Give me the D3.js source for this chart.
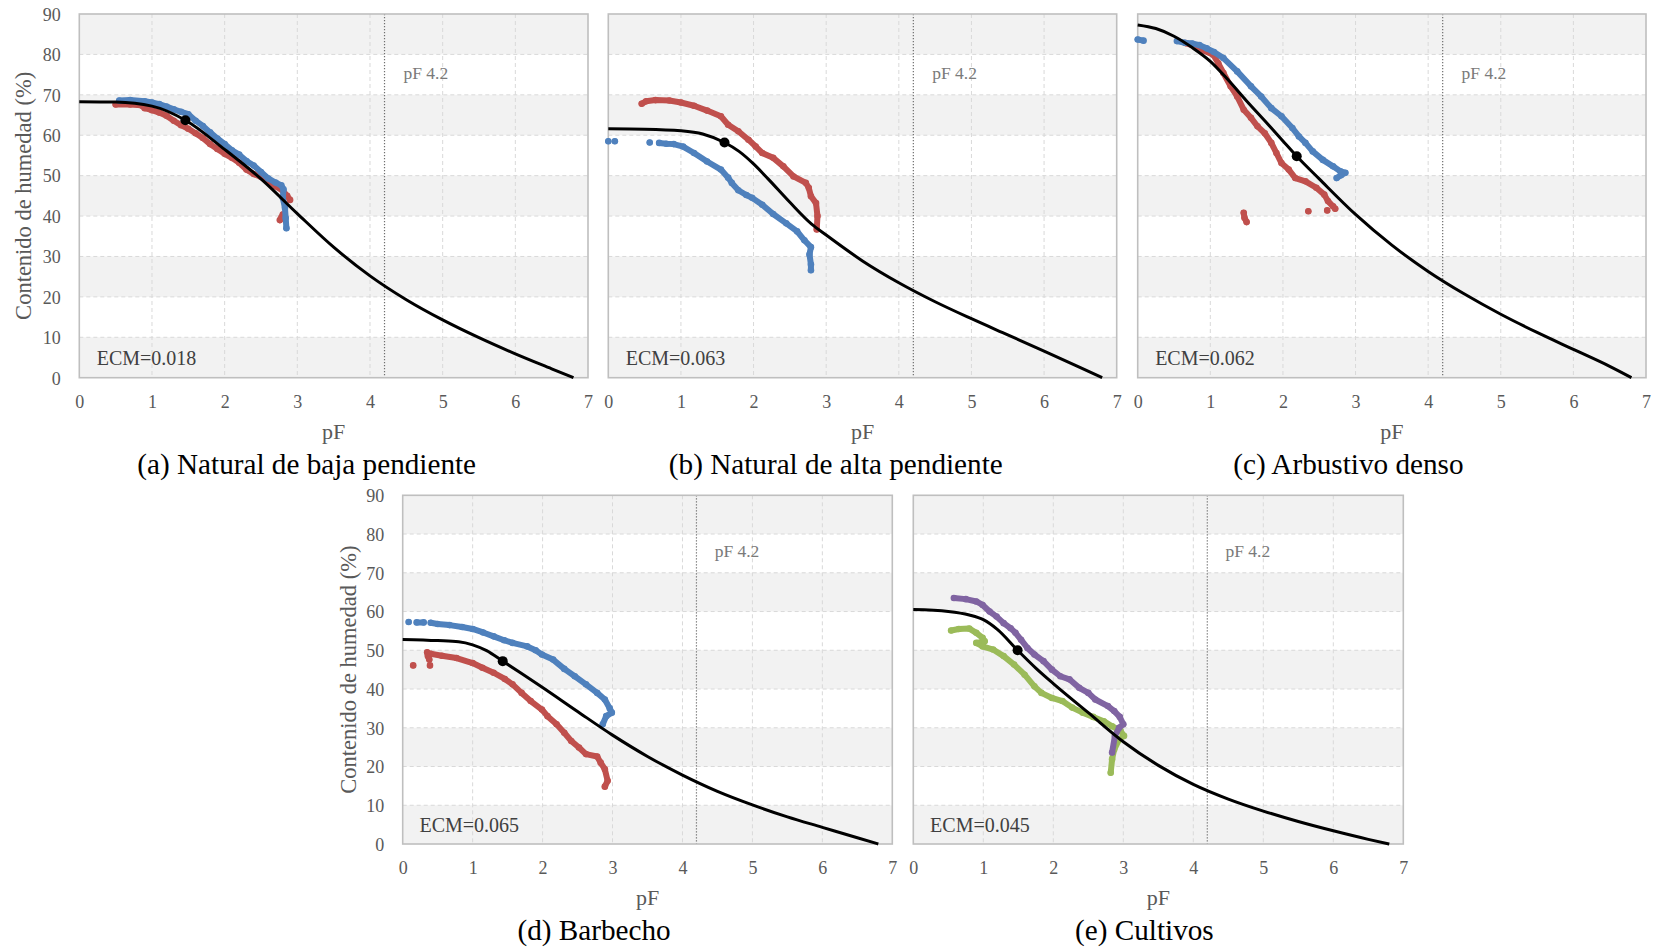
<!DOCTYPE html>
<html>
<head>
<meta charset="utf-8">
<script src="https://cdn.jsdelivr.net/npm/d3@7"></script>
<style>
  body { margin: 0; background: #fff; }
  svg { display: block; }
  text { font-family: "Liberation Serif", "Times New Roman", serif; }
</style>
</head>
<body>
<svg id="fig" width="1658" height="947"></svg>
<script>
// ---- axis ticks ----
const pfTicks = [0, 1, 2, 3, 4, 5, 6, 7];
const thetaTicks = [0, 10, 20, 30, 40, 50, 60, 70, 80, 90];
const wiltingPF = 4.2;

// ---- panel captions and fit errors ----
const panelTitles = ["(a) Natural de baja pendiente", "(b) Natural de alta pendiente", "(c) Arbustivo denso", "(d) Barbecho", "(e) Cultivos"];
const ecmLabels = ["ECM=0.018", "ECM=0.063", "ECM=0.062", "ECM=0.065", "ECM=0.045"];

// ---- fitted retention curves [pF, moisture %] ----
const curveA = [[0,68.3],[0.5,68.2],[1,67.2],[1.46,63.7],[2,56.5],[2.5,49.2],[3,40.6],[3.5,32.3],[4,25.2],[4.5,19.3],[5,14.3],[5.5,9.9],[6,5.9],[6.5,2.2],[6.8,0]];
const curveB = [[0,61.6],[0.5,61.5],[1,61.1],[1.3,60.3],[1.6,58.2],[1.8,56.0],[2,52.9],[2.2,49.2],[2.5,43.4],[2.8,38.0],[3,35.3],[3.5,28.9],[4,23.5],[4.5,18.8],[5,14.6],[5.5,10.6],[6,6.6],[6.5,2.5],[6.8,0]];
const curveC = [[0,87.3],[0.25,86.4],[0.5,84.5],[0.75,81.7],[1,78.3],[1.25,73.6],[1.5,68.5],[1.75,63.6],[2,58.6],[2.19,54.8],[2.5,49.2],[3,40.4],[3.5,32.8],[4,26.3],[4.5,20.7],[5,15.7],[5.5,11.2],[6,7.0],[6.5,2.8],[6.8,0]];
const curveD = [[0,52.8],[0.5,52.5],[0.8,52.2],[1,51.4],[1.2,49.9],[1.43,47.2],[1.7,44.0],[2,40.4],[2.5,34.2],[3,28.1],[3.5,22.6],[4,17.8],[4.5,13.6],[5,10.1],[5.5,7.0],[6,4.3],[6.5,1.6],[6.8,0]];
const curveE = [[0,60.5],[0.5,60.0],[0.8,59.1],[1,57.9],[1.2,55.4],[1.49,50.0],[1.75,45.4],[2,41.4],[2.5,33.9],[3,26.4],[3.5,20.3],[4,15.4],[4.5,11.6],[5,8.5],[5.5,5.8],[6,3.4],[6.5,1.2],[6.8,0]];

// ---- marked point on each fitted curve ----
const fitPointA = [1.46, 63.7];
const fitPointB = [1.60, 58.2];
const fitPointC = [2.19, 54.8];
const fitPointD = [1.43, 47.2];
const fitPointE = [1.49, 50.0];

// ---- measured series [pF, moisture %]; null separates detached runs ----
const redA = [[0.5,67.6],[0.7,67.6],[0.85,67.4],[0.9,66.7],[1.0,66.2],[1.1,65.6],[1.2,64.8],[1.3,63.6],[1.4,62.5],[1.5,61.6],[1.6,60.5],[1.7,59.3],[1.8,57.8],[1.9,56.6],[2.0,55.4],[2.1,54.4],[2.2,53.2],[2.3,51.5],[2.4,50.4],[2.5,49.7],[2.6,48.6],[2.7,47.4],[2.8,46.3],[2.86,45.0],[2.9,44.0],null,[2.76,39.0],[2.78,39.6],[2.8,40.4]];
const blueA = [[0.55,68.6],[0.7,68.7],[0.9,68.4],[1.0,68.1],[1.1,67.7],[1.2,67.1],[1.3,66.4],[1.4,65.8],[1.5,65.2],[1.6,63.6],[1.7,62.3],[1.8,60.7],[1.9,59.2],[2.0,57.8],[2.1,56.3],[2.2,55.2],[2.3,53.6],[2.4,52.5],[2.5,50.9],[2.6,49.3],[2.7,48.3],[2.78,47.6],[2.81,46.6],[2.8,44.5],[2.83,42],[2.84,39.5],[2.85,37]];

const redB = [[0.46,67.8],[0.52,68.4],[0.65,68.7],[0.84,68.6],[1.0,68.1],[1.18,67.3],[1.36,66.1],[1.55,64.7],[1.65,62.6],[1.79,61.0],[1.93,58.9],[2.03,57.2],[2.12,55.6],[2.27,54.4],[2.41,52.3],[2.55,49.8],[2.72,48.2],[2.76,47.0],[2.79,44.9],[2.86,43.2],[2.88,40.0],[2.87,36.7]];
const blueB = [[0.0,58.5],null,[0.09,58.5],null,[0.57,58.2],null,[0.7,58.1],[0.8,57.9],[0.9,57.8],[1.03,57.2],[1.18,55.6],[1.36,53.5],[1.55,51.5],[1.65,49.5],[1.7,48.2],[1.79,46.4],[1.9,45.2],[1.98,44.5],[2.12,42.8],[2.27,40.5],[2.45,38.2],[2.6,36.2],[2.7,34.0],[2.79,32.3],[2.77,30.5],[2.79,28.0],[2.79,26.6]];

const redC = [[0.66,82.8],[0.8,82.0],[0.9,81.0],[1.04,79.9],[1.11,77.8],[1.18,75.4],[1.28,72.1],[1.37,69.6],[1.46,66.3],[1.56,64.3],[1.65,62.2],[1.75,60.5],[1.84,58.1],[1.91,55.6],[1.98,53.1],[2.08,51.5],[2.17,49.4],[2.31,48.6],[2.46,47.0],[2.57,45.3],[2.62,43.7],[2.69,42.4],[2.72,41.8],null,[1.46,40.8],[1.47,39.6],[1.5,38.5],null,[2.35,41.2],null,[2.61,41.4]];
const blueC = [[0.0,83.7],[0.08,83.4],null,[0.54,83.3],[0.65,82.9],[0.75,82.7],[0.85,82.3],[0.95,81.5],[1.05,80.6],[1.18,79.1],[1.37,75.8],[1.56,72.1],[1.70,69.6],[1.84,66.7],[1.98,64.7],[2.13,61.8],[2.22,59.7],[2.31,58.1],[2.41,56.0],[2.55,53.9],[2.69,52.3],[2.79,51.1],[2.86,50.7],[2.8,50.1],[2.74,49.4]];

const redD = [[0.15,46.1],null,[0.35,49.5],[0.36,48.5],[0.38,47.6],null,[0.39,46.1],null,[0.4,49.1],[0.56,48.6],[0.77,48.0],[1.0,46.7],[1.14,45.5],[1.3,44.2],[1.46,42.6],[1.57,41.2],[1.7,39.0],[1.83,36.9],[1.99,34.7],[2.07,33.0],[2.2,30.9],[2.31,28.7],[2.41,26.6],[2.52,24.9],[2.62,23.2],[2.78,22.6],[2.83,21.0],[2.89,19.3],[2.93,16.3],[2.89,14.8]];
const blueD = [[0.085,57.3],null,[0.2,57.2],[0.3,57.2],null,[0.4,57.1],[0.5,56.8],[0.67,56.5],[0.85,56.0],[1.0,55.5],[1.15,54.6],[1.3,53.6],[1.45,52.6],[1.57,51.9],[1.78,51.0],[1.9,50.0],[1.99,48.9],[2.15,47.6],[2.31,45.2],[2.46,43.3],[2.62,41.2],[2.78,39.0],[2.89,37.3],[2.96,35.0],[2.99,33.9],[2.91,33.0],[2.86,30.9]];

const greenE = [[0.54,55.1],[0.65,55.5],[0.8,55.6],[0.9,54.5],[0.99,53.2],[1.02,52.3],[0.9,51.9],[0.99,51.0],[1.14,50.2],[1.29,48.5],[1.44,46.3],[1.59,43.7],[1.73,40.7],[1.83,39.0],[1.98,37.7],[2.13,36.9],[2.27,35.2],[2.42,33.9],[2.57,32.8],[2.72,31.7],[2.84,30.4],[2.96,29.2],[3.01,27.9],[2.94,27.0],[2.87,24.4],[2.84,21.9],[2.82,18.4]];
const purpleE = [[0.58,63.5],[0.75,63.2],[0.9,62.6],[0.99,61.7],[1.09,60.0],[1.19,58.7],[1.29,57.0],[1.39,55.7],[1.46,54.5],[1.54,52.7],[1.63,50.6],[1.73,48.9],[1.86,47.2],[1.98,45.0],[2.1,43.3],[2.23,42.5],[2.37,40.3],[2.5,39.0],[2.6,37.3],[2.78,35.6],[2.87,34.3],[2.95,32.8],[3.0,30.9],[2.94,30.0],[2.88,27.9],[2.84,23.6]];

// ---- palette ----
const BLUE = "#4f81bd", RED = "#c0504d", PURPLE = "#8064a2", GREEN = "#9bbb59";
const AXIS_TEXT = "#595959";

// ---- panel layout: plot box [left, top, width, height] ----
const panels = [
  { box: [79.3, 14, 508.7, 363.7], titleX: 306.7, titleY: 474, yTitleX: 31,
    curve: curveA, fit: fitPointA, series: [[redA, RED], [blueA, BLUE]], showY: true },
  { box: [608.3, 14, 508.4, 363.7], titleX: 835.8, titleY: 474,
    curve: curveB, fit: fitPointB, series: [[redB, RED], [blueB, BLUE]], showY: false },
  { box: [1137.7, 14, 508.3, 363.7], titleX: 1348.4, titleY: 474,
    curve: curveC, fit: fitPointC, series: [[redC, RED], [blueC, BLUE]], showY: false },
  { box: [402.7, 495.3, 489.6, 348.7], titleX: 594, titleY: 940, yTitleX: 356,
    curve: curveD, fit: fitPointD, series: [[redD, RED], [blueD, BLUE]], showY: true },
  { box: [913.3, 495.3, 490, 348.7], titleX: 1144.4, titleY: 940,
    curve: curveE, fit: fitPointE, series: [[greenE, GREEN], [purpleE, PURPLE]], showY: false }
];

const svg = d3.select("#fig");

panels.forEach((p, i) => {
  const [L, T, W, H] = p.box;
  const x = d3.scaleLinear().domain([0, 7]).range([L, L + W]);
  const y = d3.scaleLinear().domain([0, 90]).range([T + H, T]);
  const g = svg.append("g");

  // alternating horizontal bands
  g.selectAll("rect.band")
    .data(thetaTicks.filter(v => v < 90 && (v / 10) % 2 === 0))
    .join("rect")
    .attr("x", L).attr("width", W)
    .attr("y", d => y(d + 10)).attr("height", d => y(d) - y(d + 10))
    .attr("fill", "#f2f2f2");

  // dashed grid
  g.selectAll("line.hg").data(thetaTicks.slice(1, -1)).join("line")
    .attr("x1", L).attr("x2", L + W).attr("y1", d => y(d)).attr("y2", d => y(d))
    .attr("stroke", "#d9d9d9").attr("stroke-width", 1).attr("stroke-dasharray", "4,3");
  g.selectAll("line.vg").data(pfTicks.slice(1, -1)).join("line")
    .attr("x1", d => x(d)).attr("x2", d => x(d)).attr("y1", T).attr("y2", T + H)
    .attr("stroke", "#d9d9d9").attr("stroke-width", 1).attr("stroke-dasharray", "4,3");

  // wilting point reference line
  g.append("line")
    .attr("x1", x(wiltingPF)).attr("x2", x(wiltingPF)).attr("y1", T).attr("y2", T + H)
    .attr("stroke", "#6f6f6f").attr("stroke-width", 1.2).attr("stroke-dasharray", "1.2,1.8");

  // plot frame
  g.append("rect").attr("x", L).attr("y", T).attr("width", W).attr("height", H)
    .attr("fill", "none").attr("stroke", "#bfbfbf").attr("stroke-width", 1.6);

  // x axis
  const xa = g.append("g").attr("transform", `translate(0,${T + H})`)
    .call(d3.axisBottom(x).tickValues(pfTicks).tickSize(0).tickFormat(d3.format("d")));
  xa.select(".domain").remove();
  xa.selectAll("text").attr("y", 24).attr("dy", "0.35em")
    .attr("font-size", 18).attr("fill", AXIS_TEXT)
    .attr("font-family", "'Liberation Serif', 'Times New Roman', serif");

  // y axis (labels only on the leftmost panel of each row)
  if (p.showY) {
    const ya = g.append("g").attr("transform", `translate(${L},0)`)
      .call(d3.axisLeft(y).tickValues(thetaTicks).tickSize(0).tickFormat(d3.format("d")));
    ya.select(".domain").remove();
    ya.selectAll("text").attr("x", -18.5).attr("dy", "0.35em")
      .attr("font-size", 18).attr("fill", AXIS_TEXT)
      .attr("font-family", "'Liberation Serif', 'Times New Roman', serif");
    g.append("text")
      .attr("transform", `translate(${p.yTitleX},${T + H / 2}) rotate(-90)`)
      .attr("text-anchor", "middle").attr("font-size", 22.5).attr("fill", AXIS_TEXT)
      .text("Contenido de humedad (%)");
  }

  // measured series: dense markers joined into a trace
  const trace = d3.line().defined(d => d !== null).x(d => x(d[0])).y(d => y(d[1]));
  p.series.forEach(([pts, color]) => {
    g.append("path").attr("d", trace(pts))
      .attr("fill", "none").attr("stroke", color).attr("stroke-width", 6)
      .attr("stroke-linejoin", "round").attr("stroke-linecap", "round");
    g.selectAll(null).data(pts.filter(d => d !== null)).join("circle")
      .attr("cx", d => x(d[0])).attr("cy", d => y(d[1])).attr("r", 3.3)
      .attr("fill", color);
  });

  // fitted curve
  const fitLine = d3.line().curve(d3.curveMonotoneX).x(d => x(d[0])).y(d => y(d[1]));
  g.append("path").attr("d", fitLine(p.curve))
    .attr("fill", "none").attr("stroke", "#000").attr("stroke-width", 3);
  g.append("circle").attr("cx", x(p.fit[0])).attr("cy", y(p.fit[1])).attr("r", 5).attr("fill", "#000");

  // annotations
  g.append("text").attr("x", x(4.46)).attr("y", y(74))
    .attr("font-size", 17.5).attr("fill", "#7a7a7a").text("pF 4.2");
  g.append("text").attr("x", x(0.24)).attr("y", y(3.1))
    .attr("font-size", 20).attr("fill", "#404040").text(ecmLabels[i]);

  // axis title and caption
  g.append("text").attr("x", L + W / 2).attr("y", T + H + 61)
    .attr("text-anchor", "middle").attr("font-size", 22).attr("fill", AXIS_TEXT).text("pF");
  g.append("text").attr("x", p.titleX).attr("y", p.titleY)
    .attr("text-anchor", "middle").attr("font-size", 29.2).attr("fill", "#000").text(panelTitles[i]);
});
</script>
</body>
</html>
